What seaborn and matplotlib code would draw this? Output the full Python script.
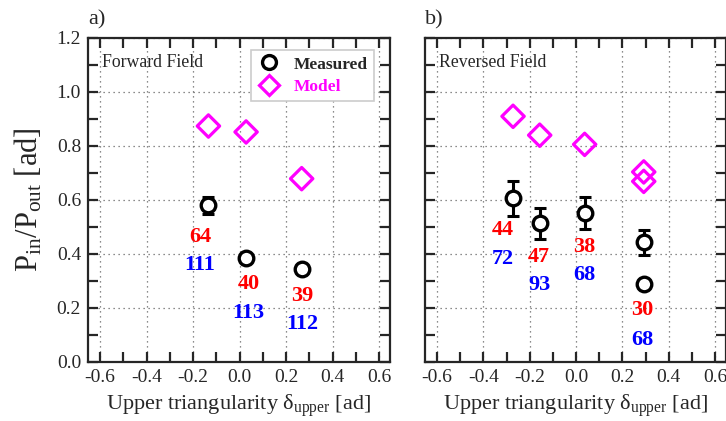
import numpy as np
import pandas as pd
import matplotlib
matplotlib.use("Agg")
import matplotlib.pyplot as plt
from matplotlib.ticker import MultipleLocator
from matplotlib.lines import Line2D
import seaborn as sns

# ---- data -------------------------------------------------------------
# Forward field
fwd_delta = [-0.134, 0.028, 0.267]
fwd_meas = [0.580, 0.385, 0.346]
fwd_err = [0.030, 0.015, 0.012]
fwd_model_delta = [-0.134, 0.028, 0.267]
fwd_model = [0.874, 0.852, 0.679]
fwd_red = ["64", "40", "39"]
fwd_blue = ["111", "113", "112"]

# Reversed field
rev_delta = [-0.272, -0.157, 0.037, 0.292, 0.292]
rev_meas = [0.607, 0.513, 0.552, 0.444, 0.288]
rev_err = [0.065, 0.056, 0.058, 0.046, 0.015]
rev_model_delta = [-0.272, -0.157, 0.037, 0.292, 0.292]
rev_model = [0.910, 0.840, 0.806, 0.704, 0.669]
rev_red = ["44", "47", "38", "30"]
rev_blue = ["72", "93", "68", "68"]

# anchor points of the count labels (data coordinates)
fwd_lab_x = [-0.170, 0.038, 0.270]
fwd_red_y = [0.463, 0.290, 0.245]
fwd_blue_y = [0.358, 0.183, 0.142]
rev_lab_x = [-0.317, -0.160, 0.037, 0.287]
rev_red_y = [0.490, 0.389, 0.426, 0.191]
rev_blue_y = [0.383, 0.284, 0.321, 0.083]

# ---- style ------------------------------------------------------------
sns.set_theme(style="ticks")
plt.rcParams["font.family"] = ["Liberation Serif", "DejaVu Serif"]
plt.rcParams["mathtext.fontset"] = "custom"
plt.rcParams["mathtext.rm"] = "Liberation Serif"
plt.rcParams["mathtext.it"] = "Liberation Serif:italic"
plt.rcParams["mathtext.bf"] = "Liberation Serif:bold"

MAG = "#ff00ff"
RED = "#ff0000"
BLUE = "#0000ff"

W, H = 726, 421
fig = plt.figure(figsize=(W / 100, H / 100), dpi=100)
ax_a = fig.add_axes([88 / W, (H - 362) / H, 302 / W, 324 / H])
ax_b = fig.add_axes([425 / W, (H - 362) / H, 301 / W, 324 / H])


def draw_panel(ax, xd, ym, ye, xm, ymod, lab_x, red_y, blue_y, reds, blues, title):
    meas = pd.DataFrame({"delta": xd, "ratio": ym})
    model = pd.DataFrame({"delta": xm, "ratio": ymod})
    ax.errorbar(xd, ym, yerr=ye, fmt="none", ecolor="black", elinewidth=2.2,
                capsize=4.5, capthick=2.2, zorder=3)
    sns.scatterplot(data=meas, x="delta", y="ratio", ax=ax, marker="o", s=110,
                    facecolor="white", edgecolor="black", linewidth=2.4, zorder=4,
                    legend=False)
    sns.scatterplot(data=model, x="delta", y="ratio", ax=ax, marker="D", s=130,
                    facecolor="none", edgecolor=MAG, linewidth=2.3, zorder=4,
                    legend=False)
    for x, y, t in zip(lab_x, red_y, reds):
        ax.text(x, y, t, color=RED, fontsize=16, fontweight="bold",
                ha="center", va="center", zorder=5)
    for x, y, t in zip(lab_x, blue_y, blues):
        ax.text(x, y, t, color=BLUE, fontsize=16, fontweight="bold",
                ha="center", va="center", zorder=5)

    ax.set_xlim(-0.652, 0.647)
    ax.set_ylim(0.0, 1.2)
    ax.xaxis.set_major_locator(MultipleLocator(0.2))
    ax.xaxis.set_minor_locator(MultipleLocator(0.1))
    ax.yaxis.set_major_locator(MultipleLocator(0.2))
    ax.yaxis.set_minor_locator(MultipleLocator(0.1))
    ax.tick_params(which="both", direction="in", top=True, right=True,
                   length=7, width=1.6, labelsize=14, pad=5)
    ax.grid(True, which="major", linestyle=(0, (1, 3)), color="#666666",
            linewidth=0.9)
    for sp in ax.spines.values():
        sp.set_linewidth(1.6)
        sp.set_visible(True)
    ax.set_xticklabels([f"{v:.1f}" for v in ax.get_xticks()])
    ax.set_xlabel("Upper triangularity δ$_{\\mathrm{upper}}$ [ad]", fontsize=16,
                  labelpad=5)
    ax.set_ylabel("")
    ax.text(0.046, 0.925, title, transform=ax.transAxes, fontsize=12.8,
            ha="left", va="center")


draw_panel(ax_a, fwd_delta, fwd_meas, fwd_err, fwd_model_delta, fwd_model,
           fwd_lab_x, fwd_red_y, fwd_blue_y, fwd_red, fwd_blue, "Forward Field")
draw_panel(ax_b, rev_delta, rev_meas, rev_err, rev_model_delta, rev_model,
           rev_lab_x, rev_red_y, rev_blue_y, rev_red, rev_blue, "Reversed Field")

ax_a.set_yticklabels([f"{v:.1f}" for v in ax_a.get_yticks()])
ax_b.tick_params(labelleft=False)
ax_a.set_ylabel("P$_{\\mathrm{in}}$/P$_{\\mathrm{out}}$ [ad]", fontsize=22,
                labelpad=9)

handles = [
    Line2D([], [], marker="o", linestyle="none", markerfacecolor="white",
           markeredgecolor="black", markeredgewidth=2.4, markersize=10),
    Line2D([], [], marker="D", linestyle="none", markerfacecolor="none",
           markeredgecolor=MAG, markeredgewidth=2.3, markersize=10),
]
leg = ax_a.legend(handles, ["Measured", "Model"], loc="upper right",
                  bbox_to_anchor=(0.947, 0.962), borderaxespad=0.0,
                  frameon=True, fancybox=False, framealpha=1,
                  edgecolor="#cccccc", borderpad=0.35, handlelength=1.3,
                  handletextpad=0.8, labelspacing=0.35,
                  prop={"weight": "bold", "size": 12.5})
leg.get_frame().set_linewidth(1.2)
leg.get_texts()[1].set_color(MAG)

fig.text(88 / W, 1 - 20 / H, "a)", fontsize=16, ha="left", va="center")
fig.text(425 / W, 1 - 20 / H, "b)", fontsize=16, ha="left", va="center")

fig.savefig("out.png", dpi=100)
